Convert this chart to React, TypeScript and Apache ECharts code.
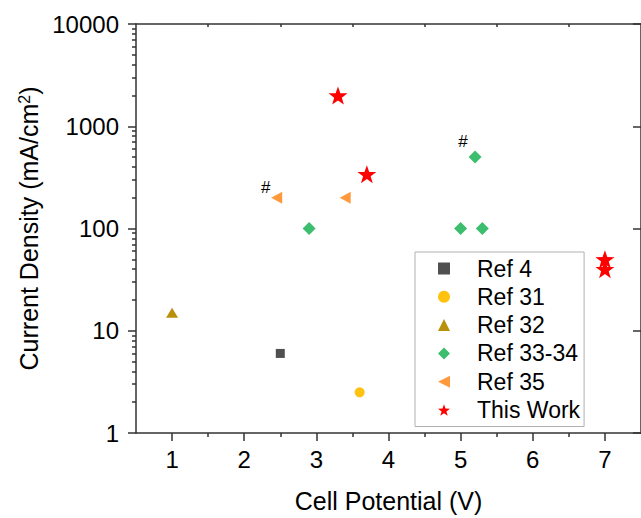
import React, { useEffect, useRef } from "react";
import * as echarts from "echarts";

const seriesNames = ["Ref 4", "Ref 31", "Ref 32", "Ref 33-34", "Ref 35", "This Work"];
const ref4: [number, number][] = [[2.5, 6]];
const ref31: [number, number][] = [[3.6, 2.5]];
const ref32: [number, number][] = [[1, 15]];
const ref3334: [number, number][] = [[2.9, 100], [5.0, 100], [5.3, 100], [5.2, 500]];
const ref35: [number, number][] = [[2.45, 200], [3.4, 200]];
const thisWork: [number, number][] = [[3.3, 2000], [3.7, 340], [7, 50], [7, 40]];
const xTicks = [1, 2, 3, 4, 5, 6, 7];
const xMinorTicks = [1.5, 2.5, 3.5, 4.5, 5.5, 6.5];
const yMinorTicks = [
  2, 3, 4, 5, 6, 7, 8, 9,
  20, 30, 40, 50, 60, 70, 80, 90,
  200, 300, 400, 500, 600, 700, 800, 900,
  2000, 3000, 4000, 5000, 6000, 7000, 8000, 9000,
];
// indices of points annotated with "#"
const hashRef35Index = 0;
const hashRef3334Index = 3;

const STAR =
  "path://M0,-10 L2.35,-3.24 L9.51,-3.09 L3.8,1.24 L5.88,8.09 L0,4 L-5.88,8.09 L-3.8,1.24 L-9.51,-3.09 L-2.35,-3.24 Z";
const LEFT_TRI = "path://M0,5 L10,0 L10,10 Z";

const FONT = "Liberation Sans, Arial, sans-serif";
const AXIS_COLOR = "#333";

export default function App() {
  const ref = useRef<HTMLDivElement>(null);
  useEffect(() => {
    if (!ref.current) return;
    const chart = echarts.init(ref.current, undefined, { renderer: "svg" });
    const hashLabel = (dx: number, dy: number) => ({
      show: true,
      formatter: "#",
      position: "inside",
      offset: [dx, dy],
      color: "#000",
      fontSize: 17,
      fontFamily: FONT,
    });
    const legendData = seriesNames.map((n) =>
      n === "Ref 35" ? { name: n, icon: LEFT_TRI, itemStyle: { color: "#FF9A3C" } } : { name: n }
    );
    const option: any = {
      animation: false,
      backgroundColor: "#fff",
      textStyle: { fontFamily: FONT },
      grid: { left: 136, top: 24, width: 509.6, height: 410.5 },
      legend: {
        orient: "vertical",
        left: 415,
        top: 252,
        data: legendData,
        itemWidth: 12,
        itemHeight: 12,
        itemGap: 5.3,
        padding: [5, 4, 5, 23],
        borderColor: "#b0b0b0",
        borderWidth: 1,
        backgroundColor: "#fff",
        textStyle: { fontSize: 23, lineHeight: 22, color: "#000", fontFamily: FONT, padding: [0, 0, 0, 22] },
      },
      xAxis: [
        {
          type: "value",
          position: "bottom",
          min: 0.5,
          max: 7.5,
          name: "Cell Potential (V)",
          nameLocation: "middle",
          nameGap: 55,
          nameTextStyle: { fontSize: 25, color: "#000", fontFamily: FONT },
          axisLine: { show: true, lineStyle: { color: AXIS_COLOR, width: 1.5 } },
          axisTick: { show: true, customValues: xTicks, length: 8, inside: false, lineStyle: { color: AXIS_COLOR, width: 1.5 } },
          axisLabel: { customValues: xTicks, fontSize: 24, color: "#000", margin: 14, fontFamily: FONT },
          splitLine: { show: false },
        },
        {
          type: "value",
          position: "bottom",
          min: 0.5,
          max: 7.5,
          axisLine: { show: false },
          axisTick: { show: true, customValues: xMinorTicks, length: 4, inside: false, lineStyle: { color: AXIS_COLOR, width: 1.5 } },
          axisLabel: { show: false },
          splitLine: { show: false },
        },
        {
          type: "value",
          position: "top",
          min: 0.5,
          max: 7.5,
          axisLine: { show: true, lineStyle: { color: AXIS_COLOR, width: 1.5 } },
          axisTick: { show: true, customValues: xMinorTicks, length: 3, inside: true, lineStyle: { color: AXIS_COLOR, width: 1.5 } },
          axisLabel: { show: false },
          splitLine: { show: false },
        },
      ],
      yAxis: [
        {
          type: "log",
          logBase: 10,
          position: "left",
          min: 1,
          max: 10000,
          name: "Current Density (mA/cm{sup|2})",
          nameLocation: "middle",
          nameGap: 82,
          nameTextStyle: {
            fontSize: 25,
            color: "#000",
            fontFamily: FONT,
            rich: {
              sup: { fontSize: 16, lineHeight: 12, verticalAlign: "top", color: "#000", fontFamily: FONT },
            },
          },
          axisLine: { show: true, lineStyle: { color: AXIS_COLOR, width: 1.5 } },
          axisTick: { show: true, length: 8, inside: false, lineStyle: { color: AXIS_COLOR, width: 1.5 } },
          axisLabel: {
            fontSize: 24,
            color: "#000",
            margin: 17,
            fontFamily: FONT,
            formatter: (v: number) => String(Math.round(v)),
          },
          splitLine: { show: false },
        },
        {
          type: "log",
          logBase: 10,
          position: "left",
          min: 1,
          max: 10000,
          axisLine: { show: false },
          axisTick: { show: true, customValues: yMinorTicks, length: 4, inside: false, lineStyle: { color: AXIS_COLOR, width: 1.5 } },
          axisLabel: { show: false },
          splitLine: { show: false },
        },
        {
          type: "log",
          logBase: 10,
          position: "right",
          min: 1,
          max: 10000,
          axisLine: { show: true, lineStyle: { color: AXIS_COLOR, width: 1.5 } },
          axisTick: { show: true, length: 8, inside: true, lineStyle: { color: AXIS_COLOR, width: 1.5 } },
          axisLabel: { show: false },
          splitLine: { show: false },
        },
      ],
      series: [
        {
          name: "Ref 4",
          type: "scatter",
          symbol: "rect",
          symbolSize: 9,
          itemStyle: { color: "#505050", opacity: 1 },
          data: ref4,
        },
        {
          name: "Ref 31",
          type: "scatter",
          symbol: "circle",
          symbolSize: 10,
          itemStyle: { color: "#FFC20E", opacity: 1 },
          data: ref31,
        },
        {
          name: "Ref 32",
          type: "scatter",
          symbol: "triangle",
          symbolSize: [12, 10],
          itemStyle: { color: "#B8900A", opacity: 1 },
          data: ref32,
        },
        {
          name: "Ref 33-34",
          type: "scatter",
          symbol: "diamond",
          symbolSize: 13,
          itemStyle: { color: "#3DBE6E", opacity: 1 },
          data: ref3334.map((p, i) =>
            i === hashRef3334Index ? { value: p, label: hashLabel(-12, -16) } : { value: p }
          ),
        },
        {
          name: "Ref 35",
          type: "scatter",
          symbol: LEFT_TRI,
          symbolSize: [11, 12],
          itemStyle: { color: "#FF9A3C", opacity: 1 },
          data: ref35.map((p, i) =>
            i === hashRef35Index ? { value: p, label: hashLabel(-11, -10) } : { value: p }
          ),
        },
        {
          name: "This Work",
          type: "scatter",
          symbol: STAR,
          symbolSize: [19, 18],
          itemStyle: { color: "#FF0000", opacity: 1 },
          data: thisWork,
        },
      ],
    };
    chart.setOption(option);
    return () => chart.dispose();
  }, []);
  return <div ref={ref} style={{ width: 641, height: 518, position: "absolute", left: 0, top: 0 }} />;
}
